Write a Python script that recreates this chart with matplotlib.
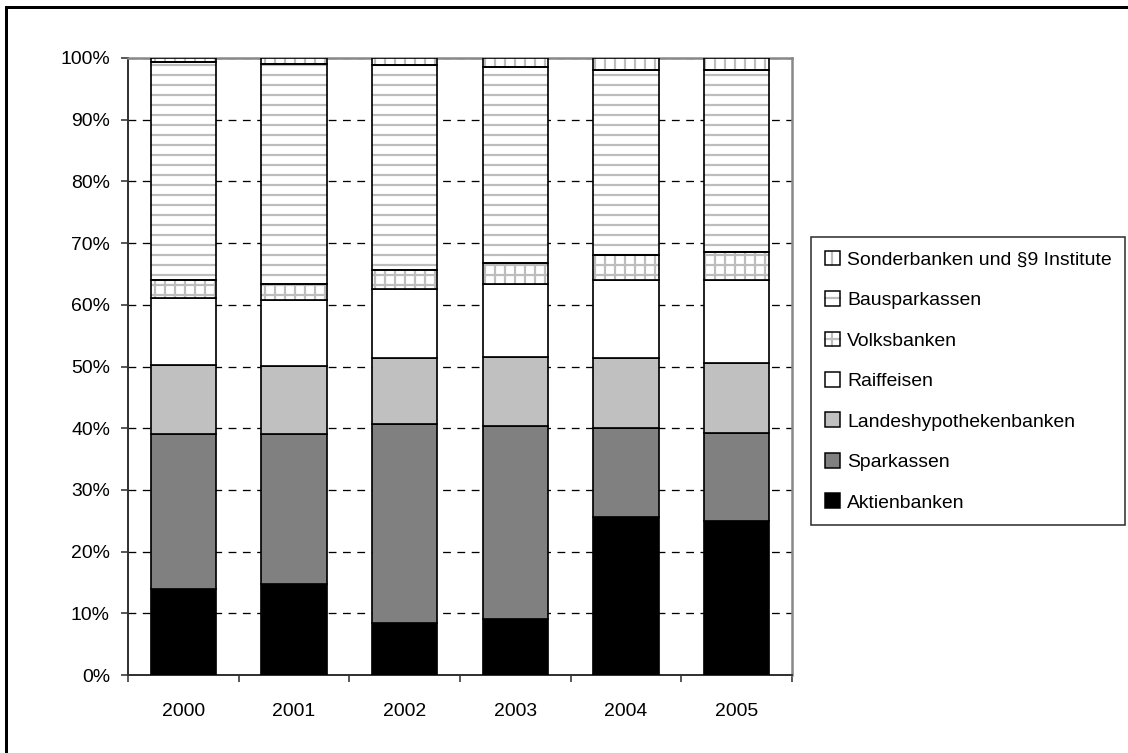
import numpy as np
import matplotlib
matplotlib.use("Agg")
from matplotlib import pyplot as plt
from matplotlib.patches import Rectangle, Patch
from matplotlib.lines import Line2D
from matplotlib.ticker import PercentFormatter

DPI = 120
def pt(px):
    # pixel size -> points at the chosen dpi
    return px * 72.0 / DPI

plt.rcParams['font.family'] = ['Liberation Sans', 'DejaVu Sans']
plt.rcParams['hatch.linewidth'] = pt(2.2)

years = ['2000', '2001', '2002', '2003', '2004', '2005']
aktienbanken = [13.9, 14.7, 8.5, 9.1, 25.6, 25.0]
sparkassen = [25.1, 24.4, 32.1, 31.3, 14.5, 14.3]
landeshypo = [11.2, 11.0, 10.8, 11.2, 11.2, 11.2]
raiffeisen = [10.9, 10.6, 11.2, 11.7, 12.8, 13.6]
volksbanken = [2.9, 2.7, 3.0, 3.5, 3.9, 4.5]
bausparkassen = [35.3, 35.6, 33.3, 31.8, 30.1, 29.4]
sonderbanken = [0.7, 1.0, 1.1, 1.4, 1.9, 2.0]

series = [
    ('Aktienbanken', aktienbanken, 'black', None),
    ('Sparkassen', sparkassen, '#808080', None),
    ('Landeshypothekenbanken', landeshypo, '#c0c0c0', None),
    ('Raiffeisen', raiffeisen, 'white', None),
    ('Volksbanken', volksbanken, 'white', '++'),
    ('Bausparkassen', bausparkassen, 'white', '--'),
    ('Sonderbanken und §9 Institute', sonderbanken, 'white', '||'),
]
hatch_grey = '#bdbdbd'

fig = plt.figure(figsize=(1128 / DPI, 753 / DPI), dpi=DPI)
ax = fig.add_axes([128/1128, 1-675/753, (792-128)/1128, (675-58)/753])

def key_pattern(hatch):
    # small legend key: one grey stroke / cross instead of the full hatch
    lw = pt(2.2)
    if hatch.startswith('-'):
        return Line2D([], [], color=hatch_grey, linewidth=lw)
    if hatch.startswith('|'):
        return Line2D([], [], linestyle='none', marker='|', markersize=pt(15),
                      markeredgewidth=lw, color=hatch_grey)
    return Line2D([], [], color=hatch_grey, linewidth=lw, marker='|',
                  markersize=pt(15), markeredgewidth=lw)

x = np.arange(len(years))
w = 0.59
bottom = np.zeros(len(years))
handles = []
labels = []
for name, vals, color, hatch in series:
    vals = np.array(vals)
    if hatch:
        # grey hatch first, then the black outline on top
        ax.bar(x, vals, w, bottom=bottom, color=color, hatch=hatch,
               edgecolor=hatch_grey, linewidth=0, zorder=3)
        ax.bar(x, vals, w, bottom=bottom, fill=False, edgecolor='black',
               linewidth=pt(1.7), zorder=4)
        h = (Patch(facecolor=color, linewidth=0),
             key_pattern(hatch),
             Patch(fill=False, edgecolor='black', linewidth=pt(1.5)))
    else:
        ax.bar(x, vals, w, bottom=bottom, color=color, edgecolor='black',
               linewidth=pt(1.7), zorder=3)
        h = Patch(facecolor=color, edgecolor='black', linewidth=pt(1.5))
    bottom += vals
    handles.append(h)
    labels.append(name)

ax.set_xlim(-0.5, len(years) - 0.5)
ax.set_ylim(0, 100)
ax.set_yticks(np.arange(0, 101, 10))
ax.yaxis.set_major_formatter(PercentFormatter(decimals=0))
ax.set_xticks(x)
ax.set_xticklabels(years)
ax.set_xticks(np.arange(-0.5, len(years)), minor=True)
fs = pt(19.4)
ax.tick_params(axis='x', which='major', length=0, pad=pt(28), labelsize=fs)
ax.tick_params(axis='x', which='minor', length=pt(7), width=pt(1.6), color='#333333')
ax.tick_params(axis='y', length=pt(7), width=pt(1.6), color='#333333',
               labelsize=fs, pad=pt(11))

ax.yaxis.grid(True, color='black', linestyle=(0, (6, 5)), linewidth=pt(1.3), zorder=1)
ax.set_axisbelow(True)
for s in ['left', 'bottom']:
    ax.spines[s].set_color('#333333')
    ax.spines[s].set_linewidth(pt(2))
for s in ['top', 'right']:
    ax.spines[s].set_color('#888888')
    ax.spines[s].set_linewidth(pt(2.5))

leg = fig.legend(handles[::-1], labels[::-1], loc='upper left',
                 bbox_to_anchor=(811/1128, 1-237/753), fontsize=fs,
                 frameon=True, fancybox=False, edgecolor='black',
                 handlelength=0.8, handleheight=0.8, handletextpad=0.35,
                 labelspacing=1.15, borderpad=0.7, borderaxespad=0)
leg.get_frame().set_linewidth(pt(1.6))

fig.patches.append(Rectangle((6/1128, -0.1), 1.2, 1-7/753+0.1,
                             transform=fig.transFigure, fill=False,
                             edgecolor='black', linewidth=pt(3)))

fig.savefig('out.png', dpi=DPI)
